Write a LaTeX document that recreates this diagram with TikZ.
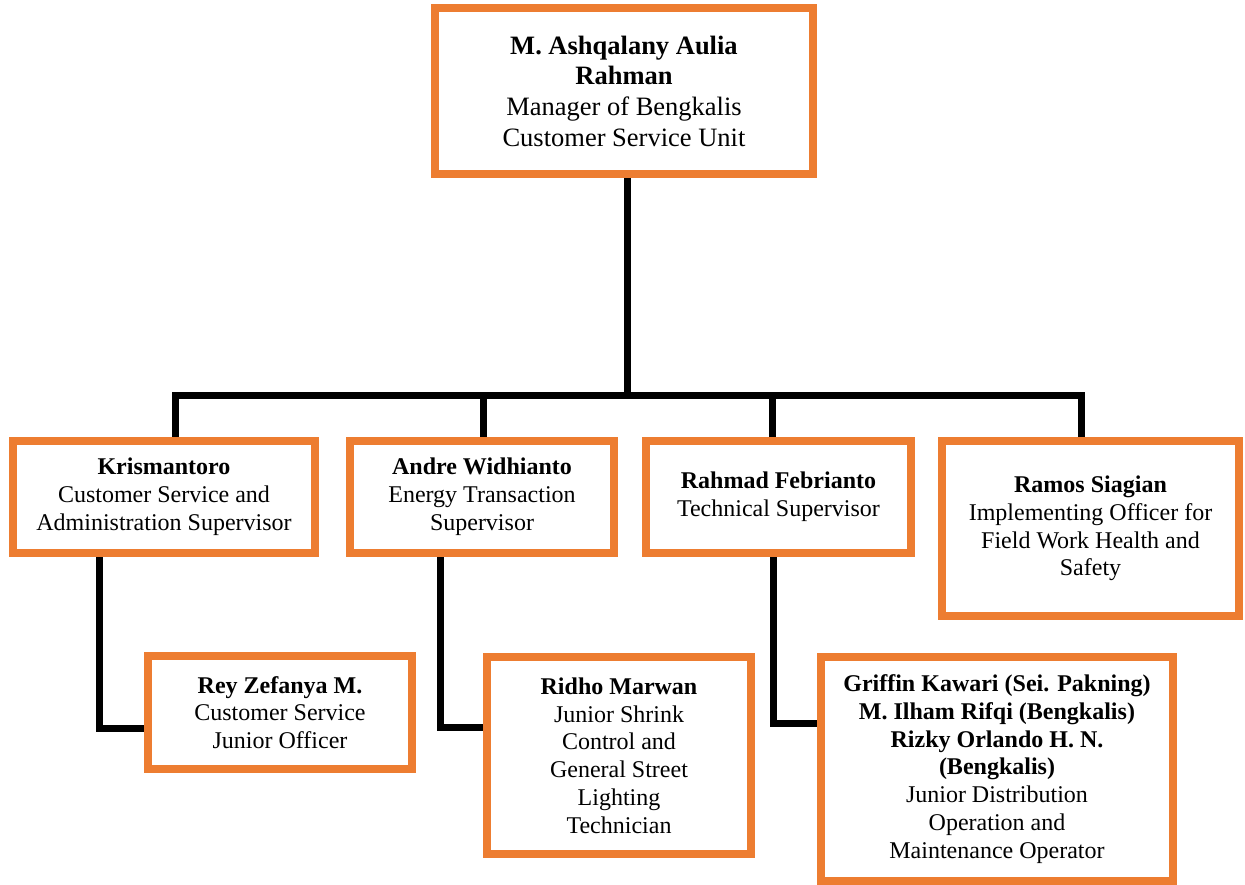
\documentclass[tikz,border=0pt]{standalone}
\usepackage{fontspec}
\setmainfont{Liberation Serif}
\usetikzlibrary{backgrounds}
\definecolor{boxorange}{HTML}{ED7D31}
\tikzset{
  unitbox/.style={draw=boxorange, line width=8pt, fill=white, inner sep=0pt,
    align=center, font=\fontsize{24}{27.8}\selectfont},
  headbox/.style={unitbox, font=\fontsize{26.5}{30.7}\selectfont},
  conn/.style={draw=black, line width=7pt, line join=miter}
}
\begin{document}
\begin{tikzpicture}[x=1pt, y=-1pt]
\useasboundingbox (0,0) rectangle (1245,885);

% manager
\node[headbox, minimum width=378pt, minimum height=166pt] (top) at (624,91)
  {\textbf{M. Ashqalany Aulia}\\\textbf{Rahman}\\Manager of Bengkalis\\Customer Service Unit};

% supervisors
\node[unitbox, minimum width=302pt, minimum height=112pt] (ks) at (164,497)
  {\textbf{Krismantoro}\\Customer Service and\\Administration Supervisor};
\node[unitbox, minimum width=264pt, minimum height=112pt] (aw) at (482,497)
  {\textbf{Andre Widhianto}\\Energy Transaction\\Supervisor};
\node[unitbox, minimum width=265pt, minimum height=112pt] (rf) at (778.5,497)
  {\textbf{Rahmad Febrianto}\\Technical Supervisor};
\node[unitbox, minimum width=297pt, minimum height=175pt] (rs) at (1090.5,528.5)
  {\textbf{Ramos Siagian}\\Implementing Officer for\\Field Work Health and\\Safety};

% junior staff
\node[unitbox, minimum width=264pt, minimum height=113pt] (rz) at (280,712.5)
  {\textbf{Rey Zefanya M.}\\Customer Service\\Junior Officer};
\node[unitbox, minimum width=264pt, minimum height=197pt] (rm) at (619,755.5)
  {\textbf{Ridho Marwan}\\Junior Shrink\\Control and\\General Street\\Lighting\\Technician};
\node[unitbox, minimum width=352pt, minimum height=224pt] (gk) at (997,769)
  {\textbf{Griffin Kawari (Sei. Pakning)}\\\textbf{M. Ilham Rifqi (Bengkalis)}\\\textbf{Rizky Orlando H. N.}\\\textbf{(Bengkalis)}\\Junior Distribution\\Operation and\\Maintenance Operator};

\begin{scope}[on background layer]
  \coordinate (bus) at (627,395);
  \draw[conn] ([xshift=3pt]top.south) -- (bus);
  \draw[conn] ([xshift=11pt]ks.north) |- ([xshift=-9.5pt]rs.north |- bus) -- ([xshift=-9.5pt]rs.north);
  \draw[conn] ([xshift=1pt]aw.north) -- ([xshift=1pt]aw.north |- bus);
  \draw[conn] ([xshift=-6.5pt]rf.north) -- ([xshift=-6.5pt]rf.north |- bus);
  \draw[conn] ([xshift=-65pt]ks.south) |- ([yshift=-15.5pt]rz.west);
  \draw[conn] ([xshift=-42pt]aw.south) |- ([yshift=28.5pt]rm.west);
  \draw[conn] ([xshift=-5.5pt]rf.south) |- ([yshift=46pt]gk.west);
\end{scope}
\end{tikzpicture}
\end{document}
